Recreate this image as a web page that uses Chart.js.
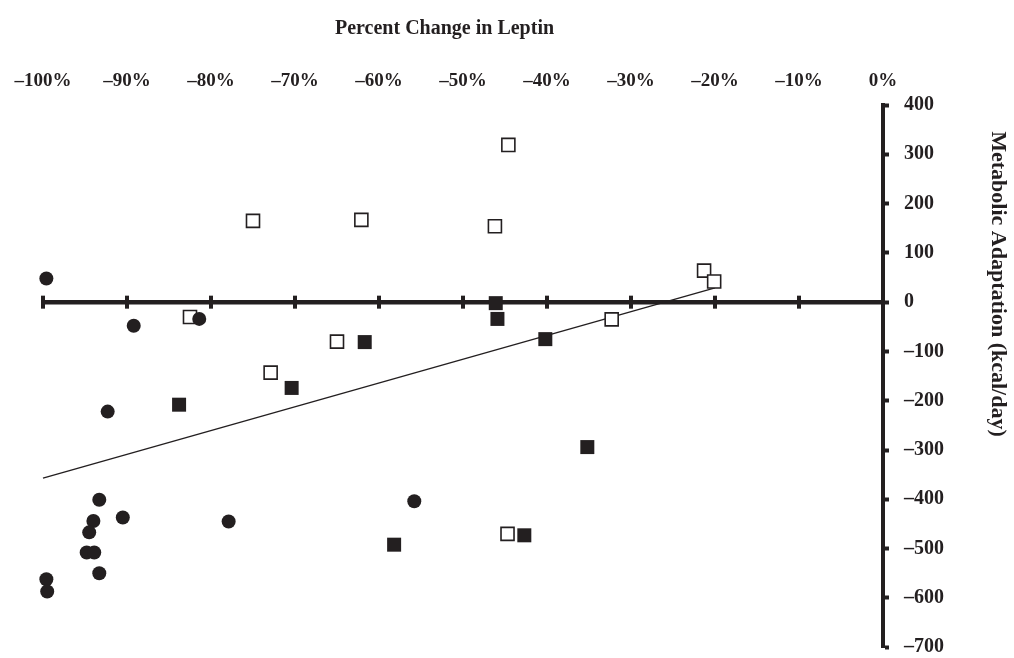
<!DOCTYPE html>
<html>
<head>
<meta charset="utf-8">
<script src="https://cdn.jsdelivr.net/npm/chart.js@4.4.1/dist/chart.umd.min.js"></script>
<style>
  html, body { margin: 0; padding: 0; background: #ffffff; }
  canvas { display: block; }
</style>
</head>
<body>
<canvas id="chart" width="1014" height="658"></canvas>
<script>
// Percent change in leptin (x) vs metabolic adaptation in kcal/day (y)
const circleX = [-99.6, -89.2, -81.4, -92.3, -93.3, -94.0, -94.5, -90.5, -77.9, -94.8, -93.9, -93.3, -99.6, -99.5, -55.8];
const circleY = [48, -48, -34, -222, -401, -444, -467, -437, -445, -508, -508, -550, -562, -587, -404];

const filledSquareX = [-83.8, -70.4, -46.1, -45.9, -61.7, -40.2, -35.2, -58.2, -42.7];
const filledSquareY = [-208, -174, -2, -34, -81, -75, -294, -492, -473];

const openSquareX = [-75.0, -82.5, -65.0, -72.9, -44.6, -62.1, -46.2, -32.3, -44.7, -21.3, -20.1];
const openSquareY = [165, -30, -80, -143, 319, 167, 154, -35, -470, 64, 42];

const trendX = [-100, -20];
const trendY = [-357, 29];

const xTickValues = [-100, -90, -80, -70, -60, -50, -40, -30, -20, -10, 0];
const yTickValues = [400, 300, 200, 100, 0, -100, -200, -300, -400, -500, -600, -700];

const xTitle = 'Percent Change in Leptin';
const yTitle = 'Metabolic Adaptation (kcal/day)';

const INK = '#231f20';
const SERIF = '"Liberation Serif", "Times New Roman", serif';

const toPoints = (xs, ys) => xs.map((x, i) => ({ x, y: ys[i] }));
const minus = v => (v < 0 ? '\u2013' + Math.abs(v) : String(v));

// Horizontal zero line with crossing tick marks, plus both axis titles
const axisDecor = {
  id: 'axisDecor',
  beforeDatasetsDraw(chart) {
    const { ctx, scales: { x, y } } = chart;
    const y0 = y.getPixelForValue(0);
    ctx.save();
    ctx.strokeStyle = INK;
    ctx.lineWidth = 4.5;
    ctx.beginPath();
    ctx.moveTo(x.getPixelForValue(-100) - 2, y0);
    ctx.lineTo(x.getPixelForValue(0), y0);
    ctx.stroke();
    ctx.lineWidth = 4;
    xTickValues.filter(v => v !== 0).forEach(v => {
      const px = x.getPixelForValue(v);
      ctx.beginPath();
      ctx.moveTo(px, y0 - 6.5);
      ctx.lineTo(px, y0 + 6.5);
      ctx.stroke();
    });
    ctx.restore();
  },
  afterDraw(chart) {
    const { ctx, chartArea } = chart;
    ctx.save();
    ctx.fillStyle = INK;
    ctx.textAlign = 'center';
    ctx.textBaseline = 'middle';
    ctx.font = 'bold 20px ' + SERIF;
    ctx.fillText(xTitle, chartArea.left + (chartArea.right - chartArea.left) * 0.478, 29);
    ctx.translate(998, 284);
    ctx.rotate(Math.PI / 2);
    ctx.font = 'bold 22px ' + SERIF;
    ctx.fillText(yTitle, 0, 0);
    ctx.restore();
  }
};

new Chart(document.getElementById('chart'), {
  type: 'scatter',
  data: {
    datasets: [
      {
        label: 'circles',
        data: toPoints(circleX, circleY),
        pointStyle: 'circle',
        pointRadius: 7,
        pointBackgroundColor: INK,
        pointBorderColor: INK,
        pointBorderWidth: 0,
        order: 1,
        clip: false
      },
      {
        label: 'filled squares',
        data: toPoints(filledSquareX, filledSquareY),
        pointStyle: 'rect',
        pointRadius: 9.9,
        pointBackgroundColor: INK,
        pointBorderColor: INK,
        pointBorderWidth: 0,
        order: 2,
        clip: false
      },
      {
        label: 'open squares',
        data: toPoints(openSquareX, openSquareY),
        pointStyle: 'rect',
        pointRadius: 9.2,
        pointBackgroundColor: '#ffffff',
        pointBorderColor: INK,
        pointBorderWidth: 1.6,
        order: 3,
        clip: false
      },
      {
        label: 'trend',
        type: 'line',
        data: toPoints(trendX, trendY),
        borderColor: INK,
        borderWidth: 1.4,
        pointRadius: 0,
        fill: false,
        order: 4,
        clip: false
      }
    ]
  },
  options: {
    responsive: false,
    animation: false,
    events: [],
    layout: { padding: { left: 43, right: 0, top: 0, bottom: 8 } },
    plugins: { legend: { display: false }, tooltip: { enabled: false }, title: { display: false } },
    scales: {
      x: {
        type: 'linear',
        position: 'top',
        min: -100,
        max: 0,
        afterFit(scale) {
          scale.height = 105;
          scale.paddingLeft = 0;
          scale.paddingRight = 0;
        },
        afterBuildTicks(scale) { scale.ticks = xTickValues.map(v => ({ value: v })); },
        grid: { display: false, drawTicks: false },
        border: { display: false },
        ticks: {
          autoSkip: false,
          maxRotation: 0,
          padding: 13,
          color: INK,
          font: { family: SERIF, size: 19, weight: 'bold' },
          callback: v => minus(v) + '%'
        }
      },
      y: {
        type: 'linear',
        position: 'right',
        min: -700,
        max: 400,
        afterFit(scale) {
          scale.width = 131;
          scale.paddingTop = 0;
          scale.paddingBottom = 0;
        },
        afterBuildTicks(scale) { scale.ticks = yTickValues.map(v => ({ value: v })); },
        grid: {
          drawOnChartArea: false,
          drawTicks: true,
          tickLength: 6,
          tickWidth: 4,
          tickColor: INK
        },
        border: { display: true, color: INK, width: 4 },
        ticks: {
          autoSkip: false,
          padding: 15,
          color: INK,
          font: { family: SERIF, size: 20, weight: 'bold', lineHeight: 0.5 },
          callback: v => minus(v)
        }
      }
    }
  },
  plugins: [axisDecor]
});
</script>
</body>
</html>
